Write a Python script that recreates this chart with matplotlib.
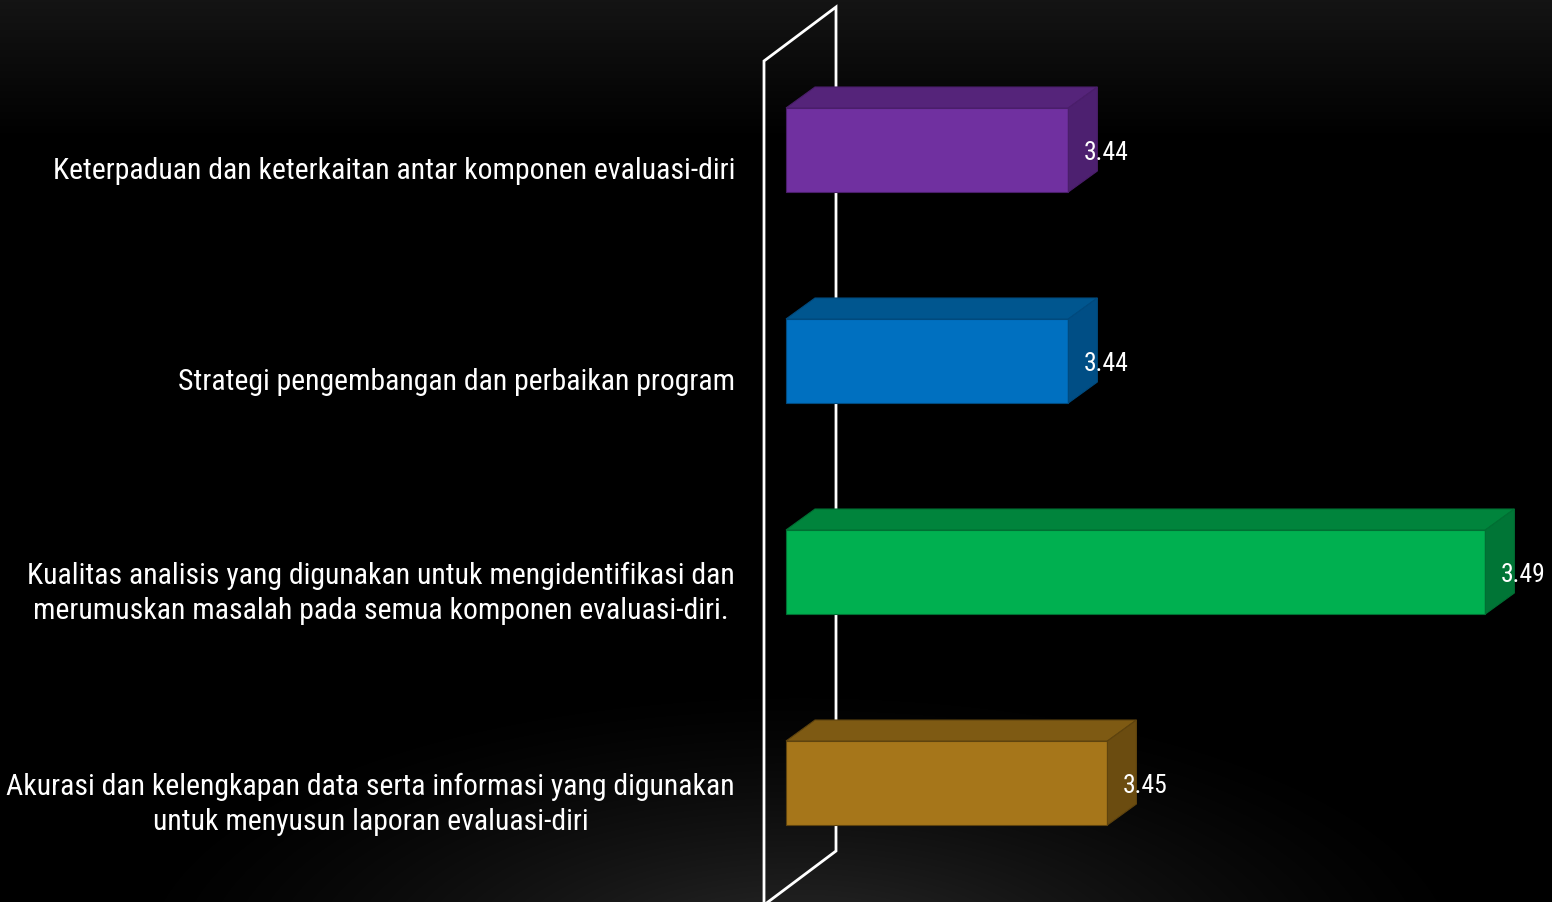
import numpy as np
import matplotlib.pyplot as plt
from matplotlib.patches import Polygon

plt.rcParams['font.family'] = ['Roboto Condensed', 'Liberation Sans', 'DejaVu Sans']

categories = [
    'Keterpaduan dan keterkaitan antar komponen evaluasi-diri',
    'Strategi pengembangan dan perbaikan program',
    'Kualitas analisis yang digunakan untuk mengidentifikasi dan\nmerumuskan masalah pada semua komponen evaluasi-diri.',
    'Akurasi dan kelengkapan data serta informasi yang digunakan\nuntuk menyusun laporan evaluasi-diri',
]
values = [3.441, 3.441, 3.489, 3.4455]
front_colors = ['#7030A0', '#0070C0', '#00B050', '#A6761A']
top_colors = ['#55247A', '#00568F', '#00843C', '#7E5A13']
side_colors = ['#4D2070', '#004E85', '#007536', '#6B4C10']
edge_colors = ['#4A1E6A', '#004A7E', '#006F33', '#5E430E']

W, H = 1552, 903
XMIN = 3.4085          # value axis start
K = 8687.5             # pixels per unit
STEP = 211.0           # pixels between categories
Y0 = 151.0             # pixel centre of first bar

fig = plt.figure(figsize=(W / 100, H / 100), dpi=100)
fig.patch.set_facecolor('black')

# background: dark band at top, soft glow at bottom centre
bg = fig.add_axes([0, 0, 1, 1])
bg.axis('off')
yy, xx = np.mgrid[0:H, 0:W]
top = np.clip(1 - yy / 140.0, 0, 1) * 0.08
glow = np.clip(1 - np.hypot((xx - 800) / 700.0, (yy - 960) / 280.0), 0, 1) ** 1.4 * 0.17
img = np.maximum(top, glow)
bg.imshow(np.dstack([img] * 3), aspect='auto', interpolation='bilinear')

ax = fig.add_axes([0, 0, 1, 1])
ax.patch.set_alpha(0)
ax.axis('off')
ax.set_xlim(XMIN - 786 / K, XMIN + (W - 786) / K)
ax.set_ylim((H - Y0) / STEP, -Y0 / STEP)

def py(p):
    return (p - Y0) / STEP

bh = 84 / STEP
dx = 29 / K
dy = 21 / STEP

# back wall outline
wx1 = XMIN - 22 / K
wx2 = wx1 + 72 / K
ax.plot([wx1, wx1, wx2, wx2, wx1], [py(910), py(62), py(8), py(852), py(906)],
        color='white', lw=2, zorder=1, solid_joinstyle='miter')

for i, v in enumerate(values):
    y_top = i - bh / 2
    y_bot = i + bh / 2
    ax.barh(i, v - XMIN, left=XMIN, height=bh, color=front_colors[i],
            edgecolor=edge_colors[i], lw=0.8, zorder=3)
    ax.add_patch(Polygon([(XMIN, y_top), (v, y_top), (v + dx, y_top - dy), (XMIN + dx, y_top - dy)],
                         closed=True, facecolor=top_colors[i], edgecolor=edge_colors[i], lw=0.8, zorder=3))
    ax.add_patch(Polygon([(v, y_top), (v + dx, y_top - dy), (v + dx, y_bot - dy), (v, y_bot)],
                         closed=True, facecolor=side_colors[i], edgecolor=edge_colors[i], lw=0.8, zorder=3))
    ax.text(v + 15 / K, i + 2 / STEP, f'{v:.2f}', color='white', fontsize=18.5,
            ha='left', va='center', zorder=4)
    ax.text(XMIN - 51 / K, i + 20 / STEP, categories[i], color='white', fontsize=21.4,
            ha='right', va='center', multialignment='center', linespacing=1.32, zorder=4)

fig.savefig('out.png', dpi=100, facecolor=fig.get_facecolor())
